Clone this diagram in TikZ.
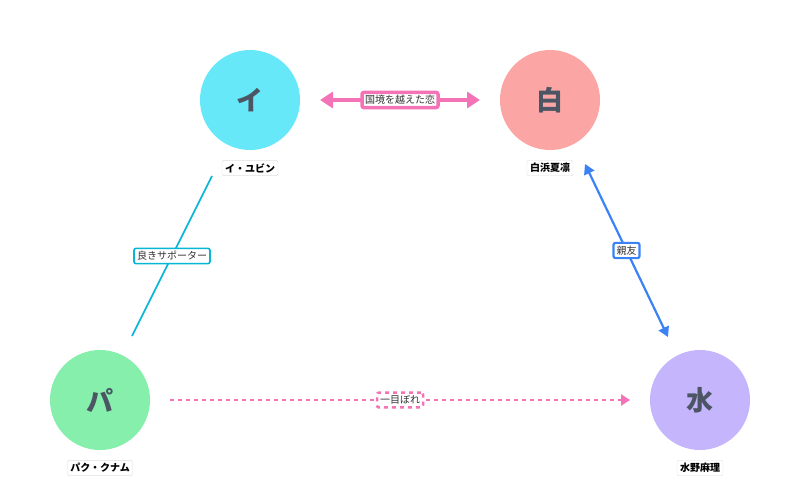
\documentclass[tikz,border=0pt]{standalone}
\usepackage{fontspec}
\setmainfont{Noto Sans CJK JP}
\usetikzlibrary{arrows.meta}
\definecolor{pk}{HTML}{F472B6}
\definecolor{cy}{HTML}{06B6D4}
\definecolor{bl}{HTML}{3B82F6}
\definecolor{tx}{HTML}{4B5563}
\definecolor{c1}{HTML}{67E8F9}
\definecolor{c2}{HTML}{FCA5A5}
\definecolor{c3}{HTML}{86EFAC}
\definecolor{c4}{HTML}{C4B5FD}
\begin{document}
\begin{tikzpicture}[x=1pt,y=-1pt,
  person/.style={circle,minimum size=100pt,inner sep=0,text=tx,font=\fontsize{27}{27}\selectfont\bfseries},
  pname/.style={draw=gray!25,fill=white,rounded corners=2pt,inner sep=3pt,font=\fontsize{10}{10}\selectfont\bfseries},
  lab/.style={draw=#1,fill=white,rounded corners=2pt,inner sep=3pt,font=\fontsize{10}{10}\selectfont,text=black!80}]
\useasboundingbox (0,0) rectangle (800,500);
\node[person,fill=c1] (yi) at (250,100) {イ};
\node[person,fill=c2] (sh) at (550,100) {白};
\node[person,fill=c3] (pa) at (100,400) {パ};
\node[person,fill=c4] (mi) at (700,400) {水};
\coordinate (a1) at (320,100); \coordinate (a2) at (480,100);
\coordinate (e1) at (132,336); \coordinate (e2) at (212,176);
\coordinate (b1) at (585,164); \coordinate (b2) at (668,337);
\coordinate (d1) at (170,400); \coordinate (d2) at (630,400);
\draw[cy,line width=1.6pt] (e1) -- node[lab=cy] {良きサポーター} (e2);
\draw[bl,line width=2.2pt,{Triangle[width=11pt,length=10pt]}-{Triangle[width=11pt,length=10pt]}] (b1) -- node[lab=bl] {親友} (b2);
\draw[pk,line width=3.5pt,{Triangle[width=16pt,length=13pt]}-{Triangle[width=16pt,length=13pt]}] (a1) -- node[lab=pk] {国境を越えた恋} (a2);
\draw[pk,line width=2.5pt,dash pattern=on 4pt off 4pt,-{Triangle[width=11pt,length=9pt]}] (d1) -- node[lab=pk] {一目ぼれ} (d2);
\node[pname] (ny) at (250,168) {イ・ユビン};
\node[pname] (ns) at (550,168) {白浜夏凛};
\node[pname] (np) at (100,468) {パク・クナム};
\node[pname] (nm) at (700,468) {水野麻理};
\end{tikzpicture}
\end{document}
